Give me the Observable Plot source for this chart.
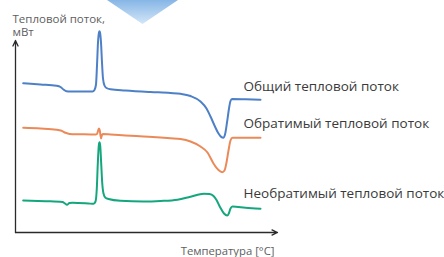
<!DOCTYPE html>
<html><head><meta charset="utf-8">
<script src="https://cdn.jsdelivr.net/npm/d3@7"></script>
<script src="https://cdn.jsdelivr.net/npm/@observablehq/plot@0.6"></script>
<style>
body{margin:0;background:#fff;font-family:"Open Sans",sans-serif;}
#wrap{position:relative;width:444px;height:257px;overflow:hidden;}
#chev{position:absolute;left:107px;top:0;width:71px;height:24px;clip-path:polygon(0 0,100% 0,50% 100%);background:linear-gradient(#86b6e6,#d3e6f8);}
</style></head>
<body><div id="wrap"><div id="chev"></div></div>
<script>
// Temperature (arbitrary units, 0..100 along the axis) and heat flow (arbitrary units, 0..100)
const px2t = p => (p - 15) / 2.62;
const px2v = p => (232 - p) / 1.92;

// Curves as [x, y] in image pixels, converted to data units below
const totalRaw = [[22.7,82.7],[40,84],[56,85.3],[60,86.5],[63,89],[66,90.8],[70,91],[80,91],[92,91],[94,89.5],[95.5,84],[96.5,65],[97.5,42],[98.5,32],[99,30.7],[99.5,32],[100.5,42],[101.5,62],[102.5,78],[104,85],[106,87.5],[110,88.8],[125,90],[150,91.5],[170,92.5],[180,93.3],[190,95.5],[200,101],[206,108],[210,116],[214,125],[218,133],[221,136.7],[222.7,137.3],[224.5,134],[226.5,122],[228.5,108],[230,100.5],[231.5,98.5],[245,98.8],[260,99.3]];
const reversingRaw = [[22.7,127.3],[40,128],[56,129.2],[61,130.3],[65,132.3],[69,133.4],[80,133.7],[95,134],[96.5,133.5],[97.5,130.5],[98.5,128],[99.3,130],[100,135],[100.6,138],[101.3,135],[102.5,133.6],[110,134],[125,135],[143,136],[160,137],[170,137.7],[180,138.5],[190,141],[200,146],[207,152],[213,163],[218,169.5],[221.7,171.7],[224,170],[226,162],[228,150],[230,140],[232,137.3],[245,137.3],[260,137.3]];
const nonreversingRaw = [[22.7,200],[45,200.7],[62,201.5],[64.5,203],[66.5,204.3],[69,202.5],[72,202.3],[88,203],[93,203.3],[95,201],[96.3,188],[97.3,163],[98.3,145],[99,141.7],[99.7,145],[100.7,163],[101.7,182],[103,193],[105,197.3],[108,198.5],[120,200.3],[143,201],[160,200.5],[177,199.2],[190,196.3],[203.3,193.3],[209,193.6],[213,195.5],[216,199.5],[219.5,206.5],[223.5,213],[226.7,215],[228.5,212.5],[230,208],[232,206],[245,207.3],[260,208.3]];

const seriesNames = ["Общий тепловой поток","Обратимый тепловой поток","Необратимый тепловой поток"];
const seriesColors = ["#4d80c6","#eb8a58","#14a67d"];
const labelDy = [-13,-14,-15];
const yLabel = "Тепловой поток,\nмВт";
const xLabel = "Температура [°C]";

const raws = [totalRaw, reversingRaw, nonreversingRaw];
const data = raws.flatMap((r, i) => r.map(([a, b]) => ({t: px2t(a), v: px2v(b), s: seriesNames[i]})));
const lastPts = raws.map((r, i) => ({t: px2t(r[r.length-1][0]), v: px2v(r[r.length-1][1]), s: seriesNames[i], dy: labelDy[i]}));

const chart = Plot.plot({
  width: 444, height: 257,
  marginLeft: 15, marginRight: 167, marginTop: 40, marginBottom: 25,
  x: {domain: [0, 100], axis: null},
  y: {domain: [0, 100], axis: null},
  color: {domain: seriesNames, range: seriesColors},
  style: {fontFamily: "Open Sans", background: "#fff", overflow: "visible"},
  marks: [
    Plot.arrow([{x1: 0, y1: 0, x2: 0, y2: 100}, {x1: 0, y1: 0, x2: 100, y2: 0}], {
      x1: "x1", y1: "y1", x2: "x2", y2: "y2", stroke: "#2a2a2a", strokeWidth: 1.3, headLength: 7, headAngle: 50, insetEnd: 0
    }),
    Plot.line(data, {x: "t", y: "v", z: "s", stroke: "s", strokeWidth: 2, curve: "monotone-x"}),
    ...lastPts.map(p => Plot.text([p], {x: "t", y: "v", text: "s", textAnchor: "start", dx: -17, dy: p.dy, fontSize: 13.5, fill: "#3a3a3a"})),
    Plot.text([yLabel], {frameAnchor: "top-left", text: d => d, textAnchor: "start", lineAnchor: "top", dx: -3, dy: -26.5, fontSize: 11.5, lineHeight: 1.1, fill: "#606060"}),
    Plot.text([xLabel], {frameAnchor: "bottom-right", text: d => d, textAnchor: "end", lineAnchor: "middle", dx: -3, dy: 19, fontSize: 11.3, fill: "#606060"})
  ]
});
document.getElementById("wrap").prepend(chart);
chart.style.position = "absolute"; chart.style.left = "0"; chart.style.top = "0";
document.getElementById("wrap").appendChild(document.getElementById("chev"));
</script>
</body></html>
